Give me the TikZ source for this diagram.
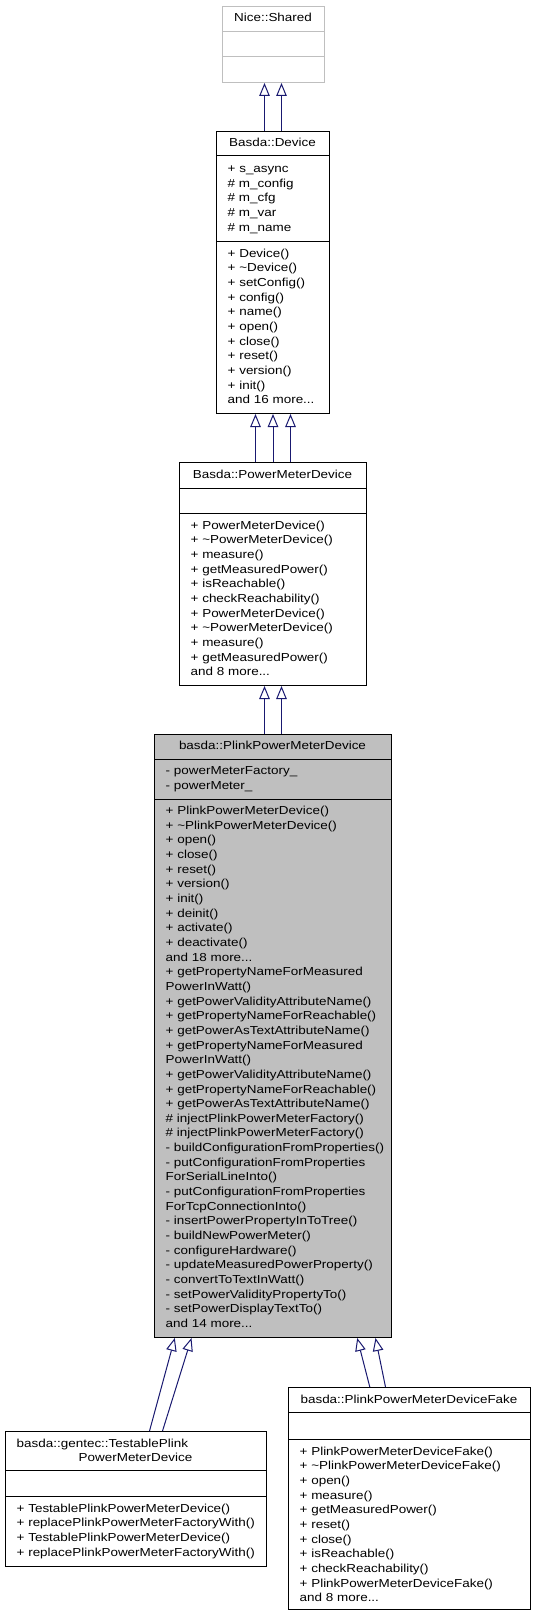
\documentclass[tikz,border=0pt]{standalone}
\usepackage{fontspec}
\usetikzlibrary{arrows.meta}
\newfontfamily\dfont{Liberation Sans}[FakeStretch=1.16]
\definecolor{navy}{HTML}{191970}
\definecolor{grayfill}{HTML}{BFBFBF}
\definecolor{grayline}{HTML}{BFBFBF}
\tikzset{
  cls/.style={draw=black, line width=1pt, rectangle, inner sep=0pt, anchor=north west},
  sepline/.style={draw=black, line width=1pt},
  txt/.style={inner sep=0pt, anchor=north west, align=left, font=\dfont\fontsize{11.6}{14.65}\selectfont},
  ttl/.style={inner sep=0pt, anchor=base, font=\dfont\fontsize{11.6}{14.65}\selectfont},
  inh/.style={draw=navy, line width=1pt, -{Triangle[open, length=13pt, width=10.5pt]}},
}
\begin{document}
\begin{tikzpicture}[x=1pt, y=-1pt]
\useasboundingbox[fill=white] (0,0) rectangle (539,1616);

% Nice::Shared
\node[cls, draw=grayline, minimum width=102pt, minimum height=76pt] (shared) at (222,6) {};
\draw[sepline, draw=grayline] (222,32) -- (324,32);
\draw[sepline, draw=grayline] (222,57) -- (324,57);
\node[ttl] (sharedt) at (273,22) {Nice::Shared};

% Basda::Device
\node[cls, minimum width=113pt, minimum height=282pt] (dev) at (216,131) {};
\draw[sepline] (216,156) -- (329,156);
\draw[sepline] (216,241) -- (329,241);
\node[ttl] (devt) at (272.5,147) {Basda::Device};
\node[txt] (deva) at (227.5,162.2) {\strut+ s\_async\\\# m\_config\\\# m\_cfg\\\# m\_var\\\# m\_name};
\node[txt] (devm) at (227.5,246.7) {\strut+ Device()\\+ \textasciitilde Device()\\+ setConfig()\\+ config()\\+ name()\\+ open()\\+ close()\\+ reset()\\+ version()\\+ init()\\and 16 more...};

% Basda::PowerMeterDevice
\node[cls, minimum width=187pt, minimum height=223pt] (pmd) at (179,462) {};
\draw[sepline] (179,488) -- (366,488);
\draw[sepline] (179,513) -- (366,513);
\node[ttl] (pmdt) at (272.5,478) {Basda::PowerMeterDevice};
\node[txt] (pmdm) at (190.5,518.7) {\strut+ PowerMeterDevice()\\+ \textasciitilde PowerMeterDevice()\\+ measure()\\+ getMeasuredPower()\\+ isReachable()\\+ checkReachability()\\+ PowerMeterDevice()\\+ \textasciitilde PowerMeterDevice()\\+ measure()\\+ getMeasuredPower()\\and 8 more...};

% basda::PlinkPowerMeterDevice
\node[cls, fill=grayfill, minimum width=237pt, minimum height=603pt] (plink) at (154,734) {};
\draw[sepline] (154,759) -- (391,759);
\draw[sepline] (154,799) -- (391,799);
\node[ttl] (plinkt) at (272.5,749.5) {basda::PlinkPowerMeterDevice};
\node[txt] (plinka) at (165.5,764.2) {\strut- powerMeterFactory\_\\- powerMeter\_};
\node[txt] (plinkm) at (165.5,804.2) {\strut+ PlinkPowerMeterDevice()\\+ \textasciitilde PlinkPowerMeterDevice()\\+ open()\\+ close()\\+ reset()\\+ version()\\+ init()\\+ deinit()\\+ activate()\\+ deactivate()\\and 18 more...\\+ getPropertyNameForMeasured\\PowerInWatt()\\+ getPowerValidityAttributeName()\\+ getPropertyNameForReachable()\\+ getPowerAsTextAttributeName()\\+ getPropertyNameForMeasured\\PowerInWatt()\\+ getPowerValidityAttributeName()\\+ getPropertyNameForReachable()\\+ getPowerAsTextAttributeName()\\\# injectPlinkPowerMeterFactory()\\\# injectPlinkPowerMeterFactory()\\- buildConfigurationFromProperties()\\- putConfigurationFromProperties\\ForSerialLineInto()\\- putConfigurationFromProperties\\ForTcpConnectionInto()\\- insertPowerPropertyInToTree()\\- buildNewPowerMeter()\\- configureHardware()\\- updateMeasuredPowerProperty()\\- convertToTextInWatt()\\- setPowerValidityPropertyTo()\\- setPowerDisplayTextTo()\\and 14 more...};

% basda::gentec::TestablePlinkPowerMeterDevice
\node[cls, minimum width=261pt, minimum height=135pt] (test) at (5,1431) {};
\draw[sepline] (5,1470) -- (266,1470);
\draw[sepline] (5,1496) -- (266,1496);
\node[ttl, anchor=base west] (testt1) at (16.5,1447) {basda::gentec::TestablePlink};
\node[ttl] (testt2) at (135.5,1461.6) {PowerMeterDevice};
\node[txt] (testm) at (16.5,1501.7) {\strut+ TestablePlinkPowerMeterDevice()\\+ replacePlinkPowerMeterFactoryWith()\\+ TestablePlinkPowerMeterDevice()\\+ replacePlinkPowerMeterFactoryWith()};

% basda::PlinkPowerMeterDeviceFake
\node[cls, minimum width=242pt, minimum height=222pt] (fake) at (288,1387) {};
\draw[sepline] (288,1412) -- (530,1412);
\draw[sepline] (288,1439) -- (530,1439);
\node[ttl] (faket) at (409,1403) {basda::PlinkPowerMeterDeviceFake};
\node[txt] (fakem) at (299.5,1444.7) {\strut+ PlinkPowerMeterDeviceFake()\\+ \textasciitilde PlinkPowerMeterDeviceFake()\\+ open()\\+ measure()\\+ getMeasuredPower()\\+ reset()\\+ close()\\+ isReachable()\\+ checkReachability()\\+ PlinkPowerMeterDeviceFake()\\and 8 more...};

% inheritance arrows
\draw[inh] ([xshift=-8.5pt]dev.north) -- ([xshift=-9pt]shared.south);
\draw[inh] ([xshift=8.5pt]dev.north) -- ([xshift=8pt]shared.south);
\draw[inh] ([xshift=-17.5pt]pmd.north) -- ([xshift=-17.5pt]dev.south);
\draw[inh] (pmd.north) -- (dev.south);
\draw[inh] ([xshift=17.5pt]pmd.north) -- ([xshift=17.5pt]dev.south);
\draw[inh] ([xshift=-8.5pt]plink.north) -- ([xshift=-8.5pt]pmd.south);
\draw[inh] ([xshift=8.5pt]plink.north) -- ([xshift=8.5pt]pmd.south);
\draw[inh] ([xshift=13.5pt]test.north) -- ([xshift=-98.2pt]plink.south);
\draw[inh] ([xshift=26.5pt]test.north) -- ([xshift=-81.5pt]plink.south);
\draw[inh] ([xshift=-39.7pt]fake.north) -- ([xshift=84.2pt]plink.south);
\draw[inh] ([xshift=-24pt]fake.north) -- ([xshift=102.5pt]plink.south);
\end{tikzpicture}
\end{document}
